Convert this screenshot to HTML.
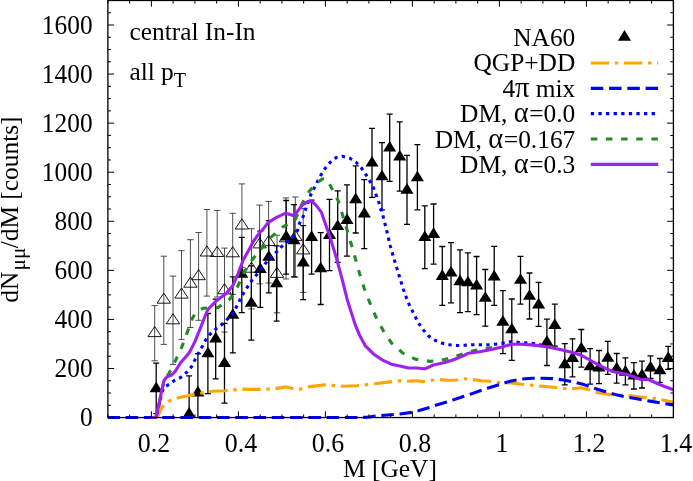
<!DOCTYPE html>
<html><head><meta charset="utf-8"><title>plot</title>
<style>
html,body{margin:0;padding:0;background:#fff;}
body{width:693px;height:481px;overflow:hidden;}
svg{display:block;will-change:transform;}
text{font-family:"Liberation Serif",serif;fill:#000;}
</style></head><body>
<svg width="693" height="481" viewBox="0 0 693 481">
<rect width="693" height="481" fill="#fff"/>
<defs><clipPath id="c"><rect x="107.25" y="0" width="566.80" height="418.20"/></clipPath>
<clipPath id="c2"><rect x="107.90" y="0" width="565.50" height="420.55"/></clipPath></defs>

<g clip-path="url(#c)"><path d="M154.7 305.6V360.8M151.5 305.6h6.4M151.5 360.8h6.4M163.8 256.2V344.4M160.6 256.2h6.4M160.6 344.4h6.4M173.0 276.1V364.4M169.8 276.1h6.4M169.8 364.4h6.4M181.5 250.7V339.4M178.3 250.7h6.4M178.3 339.4h6.4M190.4 239.7V327.5M187.2 239.7h6.4M187.2 327.5h6.4M198.6 232.5V320.3M195.4 232.5h6.4M195.4 320.3h6.4M206.9 209.5V296.1M203.7 209.5h6.4M203.7 296.1h6.4M217.2 210.4V297.0M214.0 210.4h6.4M214.0 297.0h6.4M224.5 248.1V332.1M221.3 248.1h6.4M221.3 332.1h6.4M232.7 213.3V294.4M229.5 213.3h6.4M229.5 294.4h6.4M241.9 183.9V267.3M238.7 183.9h6.4M238.7 267.3h6.4M251.5 228.7V308.9M248.3 228.7h6.4M248.3 308.9h6.4M259.6 205.1V283.9M256.4 205.1h6.4M256.4 283.9h6.4M268.6 201.4V283.0M265.4 201.4h6.4M265.4 283.0h6.4M277.0 235.2V312.8M273.8 235.2h6.4M273.8 312.8h6.4M286.0 197.9V279.0M282.8 197.9h6.4M282.8 279.0h6.4M295.3 197.0V277.0M292.1 197.0h6.4M292.1 277.0h6.4M303.2 208.6V292.4M300.0 208.6h6.4M300.0 292.4h6.4" stroke="#222" stroke-width="0.8" fill="none"/>
<path d="M154.7 326.5l-6.72 10.10h13.43zM163.8 293.1l-6.72 10.10h13.43zM173.0 313.7l-6.72 10.10h13.43zM181.5 288.0l-6.72 10.10h13.43zM190.4 277.1l-6.72 10.10h13.43zM198.6 269.6l-6.72 10.10h13.43zM206.9 245.9l-6.72 10.10h13.43zM217.2 246.4l-6.72 10.10h13.43zM224.5 283.7l-6.72 10.10h13.43zM232.7 246.7l-6.72 10.10h13.43zM241.9 218.9l-6.72 10.10h13.43zM251.5 262.1l-6.72 10.10h13.43zM259.6 237.8l-6.72 10.10h13.43zM268.6 235.5l-6.72 10.10h13.43zM277.0 267.3l-6.72 10.10h13.43zM286.0 231.7l-6.72 10.10h13.43zM295.3 230.3l-6.72 10.10h13.43zM303.2 243.8l-6.72 10.10h13.43z" stroke="#000" stroke-width="0.9" fill="none" stroke-linejoin="miter"/></g>
<g clip-path="url(#c)"><path d="M156.2 363.2V413.6M153.2 363.2h6M153.2 413.6h6M189.1 375.8V417.6M186.1 375.8h6M197.9 353.6V417.6M194.9 353.6h6M207.9 313.5V393.6M204.9 313.5h6M204.9 393.6h6M215.7 299.1V378.9M212.7 299.1h6M212.7 378.9h6M224.5 323.3V403.2M221.5 323.3h6M221.5 403.2h6M232.8 276.9V352.8M229.8 276.9h6M229.8 352.8h6M241.8 237.4V312.6M238.8 237.4h6M238.8 312.6h6M251.3 265.9V340.1M248.3 265.9h6M248.3 340.1h6M260.3 231.2V307.4M257.3 231.2h6M257.3 307.4h6M268.8 220.6V292.9M265.8 220.6h6M265.8 292.9h6M276.6 245.8V321.2M273.6 245.8h6M273.6 321.2h6M286.2 200.5V274.1M283.2 200.5h6M283.2 274.1h6M294.0 204.6V276.9M291.0 204.6h6M291.0 276.9h6M303.2 225.6V299.6M300.2 225.6h6M300.2 299.6h6M311.6 200.2V274.1M308.6 200.2h6M308.6 274.1h6M320.7 232.7V304.5M317.7 232.7h6M317.7 304.5h6M329.5 199.4V270.7M326.5 199.4h6M326.5 270.7h6M337.7 190.8V262.4M334.7 190.8h6M334.7 262.4h6M347.0 184.9V256.1M344.0 184.9h6M344.0 256.1h6M355.7 165.8V233.0M352.7 165.8h6M352.7 233.0h6M364.3 179.6V248.7M361.3 179.6h6M361.3 248.7h6M372.0 128.3V197.3M369.0 128.3h6M369.0 197.3h6M382.0 142.6V209.8M379.0 142.6h6M379.0 209.8h6M389.7 114.2V181.3M386.7 114.2h6M386.7 181.3h6M399.7 121.9V191.1M396.7 121.9h6M396.7 191.1h6M407.0 155.3V224.3M404.0 155.3h6M404.0 224.3h6M417.4 144.7V209.8M414.4 144.7h6M414.4 209.8h6M424.8 205.8V268.6M421.8 205.8h6M421.8 268.6h6M433.6 204.0V264.2M430.6 204.0h6M430.6 264.2h6M442.3 246.5V305.3M439.3 246.5h6M439.3 305.3h6M451.0 242.6V302.8M448.0 242.6h6M448.0 302.8h6M460.0 249.9V312.6M457.0 249.9h6M457.0 312.6h6M467.9 252.8V311.6M464.9 252.8h6M464.9 311.6h6M476.6 256.5V314.7M473.6 256.5h6M473.6 314.7h6M485.3 269.5V326.2M482.3 269.5h6M482.3 326.2h6M494.2 246.3V305.3M491.2 246.3h6M491.2 305.3h6M502.9 290.7V353.6M499.9 290.7h6M499.9 353.6h6M511.8 299.0V360.3M508.8 299.0h6M508.8 360.3h6M520.5 256.4V304.2M517.5 256.4h6M517.5 304.2h6M529.5 273.0V319.0M526.5 273.0h6M526.5 319.0h6M538.6 282.4V326.4M535.6 282.4h6M535.6 326.4h6M546.9 319.2V365.5M543.9 319.2h6M543.9 365.5h6M554.8 304.2V346.2M551.8 304.2h6M551.8 346.2h6M564.8 343.7V384.8M561.8 343.7h6M561.8 384.8h6M572.5 338.9V376.9M569.5 338.9h6M569.5 376.9h6M581.3 329.5V367.2M578.3 329.5h6M578.3 367.2h6M590.1 348.7V384.1M587.1 348.7h6M587.1 384.1h6M599.0 350.5V383.6M596.0 350.5h6M596.0 383.6h6M607.8 341.4V374.4M604.8 341.4h6M604.8 374.4h6M616.7 353.5V383.1M613.7 353.5h6M613.7 383.1h6M625.4 357.8V384.9M622.4 357.8h6M622.4 384.9h6M633.9 362.6V389.0M630.9 362.6h6M630.9 389.0h6M642.0 361.2V388.0M639.0 361.2h6M639.0 388.0h6M650.5 355.8V378.5M647.5 355.8h6M647.5 378.5h6M659.9 358.5V382.4M656.9 358.5h6M656.9 382.4h6M668.2 346.4V369.3M665.2 346.4h6M665.2 369.3h6" stroke="#000" stroke-width="1.3" fill="none"/>
<path d="M156.2 381.55l-6.55 10.65h13.1zM189.1 407.05l-6.55 10.65h13.1zM197.9 385.85l-6.55 10.65h13.1zM207.9 346.65l-6.55 10.65h13.1zM215.7 331.85l-6.55 10.65h13.1zM224.5 356.35l-6.55 10.65h13.1zM232.8 308.15l-6.55 10.65h13.1zM241.8 267.15l-6.55 10.65h13.1zM251.3 296.15l-6.55 10.65h13.1zM260.3 262.45l-6.55 10.65h13.1zM268.8 250.05l-6.55 10.65h13.1zM276.6 276.65l-6.55 10.65h13.1zM286.2 229.75l-6.55 10.65h13.1zM294.0 233.55l-6.55 10.65h13.1zM303.2 255.85l-6.55 10.65h13.1zM311.6 230.25l-6.55 10.65h13.1zM320.7 261.65l-6.55 10.65h13.1zM329.5 228.25l-6.55 10.65h13.1zM337.7 219.45l-6.55 10.65h13.1zM347.0 213.35l-6.55 10.65h13.1zM355.7 192.55l-6.55 10.65h13.1zM364.3 206.85l-6.55 10.65h13.1zM372.0 155.95l-6.55 10.65h13.1zM382.0 169.65l-6.55 10.65h13.1zM389.7 140.95l-6.55 10.65h13.1zM399.7 149.85l-6.55 10.65h13.1zM407.0 183.05l-6.55 10.65h13.1zM417.4 170.65l-6.55 10.65h13.1zM424.8 230.45l-6.55 10.65h13.1zM433.6 227.25l-6.55 10.65h13.1zM442.3 269.35l-6.55 10.65h13.1zM451.0 265.75l-6.55 10.65h13.1zM460.0 274.55l-6.55 10.65h13.1zM467.9 275.65l-6.55 10.65h13.1zM476.6 278.75l-6.55 10.65h13.1zM485.3 291.15l-6.55 10.65h13.1zM494.2 269.75l-6.55 10.65h13.1zM502.9 315.05l-6.55 10.65h13.1zM511.8 322.65l-6.55 10.65h13.1zM520.5 273.15l-6.55 10.65h13.1zM529.5 289.15l-6.55 10.65h13.1zM538.6 297.75l-6.55 10.65h13.1zM546.9 335.15l-6.55 10.65h13.1zM554.8 318.35l-6.55 10.65h13.1zM564.8 357.55l-6.55 10.65h13.1zM572.5 351.35l-6.55 10.65h13.1zM581.3 341.65l-6.55 10.65h13.1zM590.1 359.65l-6.55 10.65h13.1zM599.0 360.75l-6.55 10.65h13.1zM607.8 351.05l-6.55 10.65h13.1zM616.7 361.65l-6.55 10.65h13.1zM625.4 365.05l-6.55 10.65h13.1zM633.9 368.95l-6.55 10.65h13.1zM642.0 368.45l-6.55 10.65h13.1zM650.5 360.75l-6.55 10.65h13.1zM659.9 363.65l-6.55 10.65h13.1zM668.2 351.25l-6.55 10.65h13.1z" fill="#000" stroke="none"/></g>
<g clip-path="url(#c2)" fill="none" stroke-width="3.1" stroke-linejoin="round">
<polyline points="157.7,416.6 161.8,407.6 168.5,401.3 178.3,397.8 194.9,394.1 211.6,391.3 224.9,390.8 241.5,389.1 250.0,389.4 260.0,389.4 275.0,388.7 286.2,386.9 297.4,389.9 307.4,386.9 324.9,384.9 342.4,386.2 357.3,385.7 374.8,383.7 389.8,381.9 399.8,380.8 406.7,381.3 416.6,380.8 423.3,381.6 431.6,380.3 439.9,379.6 448.3,380.3 456.6,380.0 464.9,378.8 473.2,379.6 481.5,380.8 489.9,381.3 498.2,382.5 511.2,382.9 521.6,384.2 532.0,385.2 542.4,386.3 552.8,387.3 563.2,388.4 573.6,388.6 581.3,387.8 587.6,389.4 590.0,390.1" stroke="#ffa500" stroke-dasharray="18.3 5.7 3.5 5.7" stroke-dashoffset="5.3"/>
<polyline points="595.6,391.9 598.0,392.6 610.4,394.6 628.0,395.6 644.7,397.6 653.0,398.4 660.3,399.4 673.4,402.3" stroke="#ffa500" stroke-dasharray="18.3 5.7 3.5 5.7"/>
<polyline points="107.4,417.5 360.0,417.5 367.0,417.2 379.8,415.6 400.0,414.0 411.6,412.4 418.3,410.7 430.0,407.4 435.8,405.2 446.6,402.1 453.2,399.9 464.1,396.3 469.9,394.4 481.5,390.3 487.4,388.3 499.8,384.6 505.7,382.5 511.2,380.9 521.6,379.0 532.0,378.2 542.4,378.2 552.8,378.6 563.2,380.0 573.6,381.9 584.0,384.6 594.3,388.2 604.7,391.4 615.1,394.4 624.1,396.5 635.4,398.6 649.9,401.1 662.4,403.2 673.4,404.9" stroke="#0000ff" stroke-dasharray="12.5 5.77"/>
<polyline points="156.2,417.4 158.7,406.6 162.0,392.0 164.3,387.2 167.0,385.7 174.1,380.7 180.8,377.4 186.6,372.4 191.6,366.6 194.9,359.9 198.2,353.6 202.4,346.3 205.7,340.0 210.4,333.8 216.5,328.6 222.4,324.1 228.2,318.3 233.2,313.1 236.5,306.6 239.8,300.2 243.2,293.6 247.3,287.1 251.6,280.8 256.6,274.7 260.8,268.8 265.8,262.9 270.8,257.4 276.6,251.9 281.6,246.6 287.4,241.3 293.3,236.6 297.4,230.8 299.5,223.3 303.2,216.6 305.7,209.1 310.7,194.9 314.1,188.3 317.4,181.6 321.2,174.6 325.2,168.3 330.4,162.1 336.2,157.5 342.3,156.3 349.5,158.0 356.1,162.3 361.4,168.0 365.2,173.4 369.6,180.7 373.3,187.5 375.8,194.2 378.5,201.5 381.0,208.2 386.2,228.5 390.3,246.1 395.5,263.8 399.7,277.3 403.2,288.8 404.9,293.9 408.6,303.3 413.2,312.6 418.4,323.0 423.6,330.3 428.8,336.1 435.0,340.3 442.3,343.2 449.6,344.8 456.9,345.5 464.1,345.3 471.4,344.8 479.7,344.8 488.1,344.8 495.3,344.2 502.9,343.2 511.2,341.6 521.6,342.6 534.0,343.5 546.5,346.0" stroke="#0000ff" stroke-dasharray="3.3 4.3" stroke-dashoffset="4.5"/>
<polyline points="156.1,417.4 158.6,406.6 161.9,390.0 164.3,381.0 168.6,374.1 175.8,359.9 181.6,347.4 186.6,334.1 192.4,318.3 196.0,312.0 203.2,308.2 218.2,307.4 229.9,299.1 237.3,287.4 244.0,272.4 252.0,260.0 259.8,250.0 261.6,248.3 271.6,236.6 283.3,226.6 294.9,220.3 302.4,203.2 309.1,191.6 316.5,183.2 322.4,178.9 325.0,178.2 327.5,180.5 330.0,185.0 333.0,190.5 338.2,200.7 342.8,215.7 346.7,228.8 351.5,245.0 355.7,259.9 359.6,273.6 364.2,288.3 369.6,302.2 375.8,316.8 383.1,330.3 391.4,342.8 402.8,353.2 415.8,359.3 430.5,361.4 444.9,359.5 458.2,355.5 461.0,354.6 474.5,350.5 488.1,348.0 495.0,347.5" stroke="#228b22" stroke-dasharray="6.5 8.65" stroke-dashoffset="2.15"/>
<polyline points="150.5,417.5 155.9,417.4 158.5,406.6 161.8,389.9 164.2,380.2 167.0,376.8 171.6,375.0 175.0,371.6 180.8,362.5 186.6,356.0 189.9,351.6 194.9,341.6 201.6,325.0 207.8,309.5 216.5,300.7 226.5,293.2 233.2,284.9 238.2,273.3 243.2,260.0 249.8,248.3 253.2,241.5 259.8,232.4 262.5,229.9 268.3,222.4 276.6,217.4 285.8,213.2 294.1,215.7 302.4,204.9 307.4,201.9 311.6,201.2 315.7,204.9 321.5,212.4 324.0,220.0 329.9,236.6 336.5,258.3 342.3,279.9 347.3,299.9 355.0,324.1 359.2,334.4 365.4,345.9 373.7,354.2 382.0,359.8 392.4,364.6 400.0,366.0 408.3,368.0 416.6,368.0 425.0,368.8 433.3,365.0 444.9,362.5 454.9,359.2 463.2,355.8 468.3,353.2 479.7,351.7 492.5,349.3 502.9,346.8 511.2,344.3 521.6,344.3 534.0,345.1 546.5,346.8 559.0,349.3 571.5,352.2 581.3,355.3 589.8,360.0 598.0,364.6 606.5,368.9 614.8,372.0 625.0,374.1 633.3,376.6 641.6,379.7 647.9,379.3 656.2,383.0 664.5,386.5 673.4,389.8" stroke="#a020f0"/>
</g>
<rect x="107.9" y="0.47" width="565.50" height="417.08" fill="none" stroke="#000" stroke-width="1.3"/>
<path d="M107.90 417.55 v-3.1 M107.90 0.47 v3.1 M129.65 417.55 v-3.1 M129.65 0.47 v3.1 M151.40 417.55 v-6.2 M151.40 0.47 v6.2 M173.15 417.55 v-3.1 M173.15 0.47 v3.1 M194.90 417.55 v-3.1 M194.90 0.47 v3.1 M216.65 417.55 v-3.1 M216.65 0.47 v3.1 M238.40 417.55 v-6.2 M238.40 0.47 v6.2 M260.15 417.55 v-3.1 M260.15 0.47 v3.1 M281.90 417.55 v-3.1 M281.90 0.47 v3.1 M303.65 417.55 v-3.1 M303.65 0.47 v3.1 M325.40 417.55 v-6.2 M325.40 0.47 v6.2 M347.15 417.55 v-3.1 M347.15 0.47 v3.1 M368.90 417.55 v-3.1 M368.90 0.47 v3.1 M390.65 417.55 v-3.1 M390.65 0.47 v3.1 M412.40 417.55 v-6.2 M412.40 0.47 v6.2 M434.15 417.55 v-3.1 M434.15 0.47 v3.1 M455.90 417.55 v-3.1 M455.90 0.47 v3.1 M477.65 417.55 v-3.1 M477.65 0.47 v3.1 M499.40 417.55 v-6.2 M499.40 0.47 v6.2 M521.15 417.55 v-3.1 M521.15 0.47 v3.1 M542.90 417.55 v-3.1 M542.90 0.47 v3.1 M564.65 417.55 v-3.1 M564.65 0.47 v3.1 M586.40 417.55 v-6.2 M586.40 0.47 v6.2 M608.15 417.55 v-3.1 M608.15 0.47 v3.1 M629.90 417.55 v-3.1 M629.90 0.47 v3.1 M651.65 417.55 v-3.1 M651.65 0.47 v3.1 M673.40 417.55 v-6.2 M673.40 0.47 v6.2 M107.9 417.55 h6.2 M673.4 417.55 h-6.2 M107.9 405.28 h3.1 M673.4 405.28 h-3.1 M107.9 393.02 h3.1 M673.4 393.02 h-3.1 M107.9 380.75 h3.1 M673.4 380.75 h-3.1 M107.9 368.48 h6.2 M673.4 368.48 h-6.2 M107.9 356.21 h3.1 M673.4 356.21 h-3.1 M107.9 343.95 h3.1 M673.4 343.95 h-3.1 M107.9 331.68 h3.1 M673.4 331.68 h-3.1 M107.9 319.41 h6.2 M673.4 319.41 h-6.2 M107.9 307.15 h3.1 M673.4 307.15 h-3.1 M107.9 294.88 h3.1 M673.4 294.88 h-3.1 M107.9 282.61 h3.1 M673.4 282.61 h-3.1 M107.9 270.35 h6.2 M673.4 270.35 h-6.2 M107.9 258.08 h3.1 M673.4 258.08 h-3.1 M107.9 245.81 h3.1 M673.4 245.81 h-3.1 M107.9 233.54 h3.1 M673.4 233.54 h-3.1 M107.9 221.28 h6.2 M673.4 221.28 h-6.2 M107.9 209.01 h3.1 M673.4 209.01 h-3.1 M107.9 196.74 h3.1 M673.4 196.74 h-3.1 M107.9 184.48 h3.1 M673.4 184.48 h-3.1 M107.9 172.21 h6.2 M673.4 172.21 h-6.2 M107.9 159.94 h3.1 M673.4 159.94 h-3.1 M107.9 147.67 h3.1 M673.4 147.67 h-3.1 M107.9 135.41 h3.1 M673.4 135.41 h-3.1 M107.9 123.14 h6.2 M673.4 123.14 h-6.2 M107.9 110.87 h3.1 M673.4 110.87 h-3.1 M107.9 98.61 h3.1 M673.4 98.61 h-3.1 M107.9 86.34 h3.1 M673.4 86.34 h-3.1 M107.9 74.07 h6.2 M673.4 74.07 h-6.2 M107.9 61.81 h3.1 M673.4 61.81 h-3.1 M107.9 49.54 h3.1 M673.4 49.54 h-3.1 M107.9 37.27 h3.1 M673.4 37.27 h-3.1 M107.9 25.00 h6.2 M673.4 25.00 h-6.2 M107.9 12.74 h3.1 M673.4 12.74 h-3.1 M107.9 0.47 h3.1 M673.4 0.47 h-3.1" stroke="#000" stroke-width="1" fill="none"/>
<text x="575.3" y="45.9" font-size="25.4" text-anchor="end">NA60</text>
<text x="575.3" y="71.3" font-size="25.4" text-anchor="end">QGP+DD</text>
<text x="575.3" y="96.7" font-size="25.4" text-anchor="end">4<tspan font-size="28.4">π</tspan> mix</text>
<text x="575.3" y="122.1" font-size="25.4" text-anchor="end">DM, <tspan font-size="28.4" letter-spacing="0.7">α</tspan>=0.0</text>
<text x="575.3" y="147.5" font-size="25.4" text-anchor="end">DM, <tspan font-size="28.4" letter-spacing="0.7">α</tspan>=0.167</text>
<text x="575.3" y="172.9" font-size="25.4" text-anchor="end">DM, <tspan font-size="28.4" letter-spacing="0.7">α</tspan>=0.3</text>
<path d="M624.5 30.1l-6.55 10.6h13.1z" fill="#000"/>
<g fill="none" stroke-width="3.1">
<path d="M590.8 63.0H658.2" stroke="#ffa500" stroke-dasharray="18.3 5.7 3.5 5.7"/>
<path d="M590.8 88.4H658.2" stroke="#0000ff" stroke-dasharray="12.5 5.77"/>
<path d="M590.8 113.6H658.2" stroke="#0000ff" stroke-dasharray="3.3 4.3"/>
<path d="M590.8 139.0H658.2" stroke="#228b22" stroke-dasharray="6.5 8.65"/>
<path d="M590.8 164.4H658.2" stroke="#a020f0"/>
</g>
<text transform="translate(92.6,426.2) scale(1,1.045)" font-size="25.4" text-anchor="end">0</text>
<text transform="translate(92.6,377.2) scale(1,1.045)" font-size="25.4" text-anchor="end">200</text>
<text transform="translate(92.6,328.1) scale(1,1.045)" font-size="25.4" text-anchor="end">400</text>
<text transform="translate(92.6,279.0) scale(1,1.045)" font-size="25.4" text-anchor="end">600</text>
<text transform="translate(92.6,230.0) scale(1,1.045)" font-size="25.4" text-anchor="end">800</text>
<text transform="translate(92.6,180.9) scale(1,1.045)" font-size="25.4" text-anchor="end">1000</text>
<text transform="translate(92.6,131.8) scale(1,1.045)" font-size="25.4" text-anchor="end">1200</text>
<text transform="translate(92.6,82.8) scale(1,1.045)" font-size="25.4" text-anchor="end">1400</text>
<text transform="translate(92.6,33.7) scale(1,1.045)" font-size="25.4" text-anchor="end">1600</text>
<text transform="translate(154.0,451.6) scale(1.02,1.045)" font-size="25.4" text-anchor="middle">0.2</text>
<text transform="translate(241.0,451.6) scale(1.02,1.045)" font-size="25.4" text-anchor="middle">0.4</text>
<text transform="translate(328.0,451.6) scale(1.02,1.045)" font-size="25.4" text-anchor="middle">0.6</text>
<text transform="translate(415.0,451.6) scale(1.02,1.045)" font-size="25.4" text-anchor="middle">0.8</text>
<text transform="translate(502.0,451.6) scale(1.02,1.045)" font-size="25.4" text-anchor="middle">1</text>
<text transform="translate(589.0,451.6) scale(1.02,1.045)" font-size="25.4" text-anchor="middle">1.2</text>
<text transform="translate(676.0,451.6) scale(1.02,1.045)" font-size="25.4" text-anchor="middle">1.4</text>
<text x="390" y="476.6" font-size="25.4" text-anchor="middle">M [GeV]</text>
<text transform="translate(18,302.7) rotate(-90)" font-size="25.4">dN</text>
<text transform="translate(25,270.6) rotate(-90)" font-size="21" letter-spacing="0.4">μμ</text>
<text transform="translate(18,248.3) rotate(-90)" font-size="25.4">/dM [counts]</text>
<text x="129.4" y="39.8" font-size="25.4">central In-In</text>
<text x="129.4" y="80" font-size="25.4">all p<tspan font-size="20" dy="7.4">T</tspan></text>
</svg></body></html>
